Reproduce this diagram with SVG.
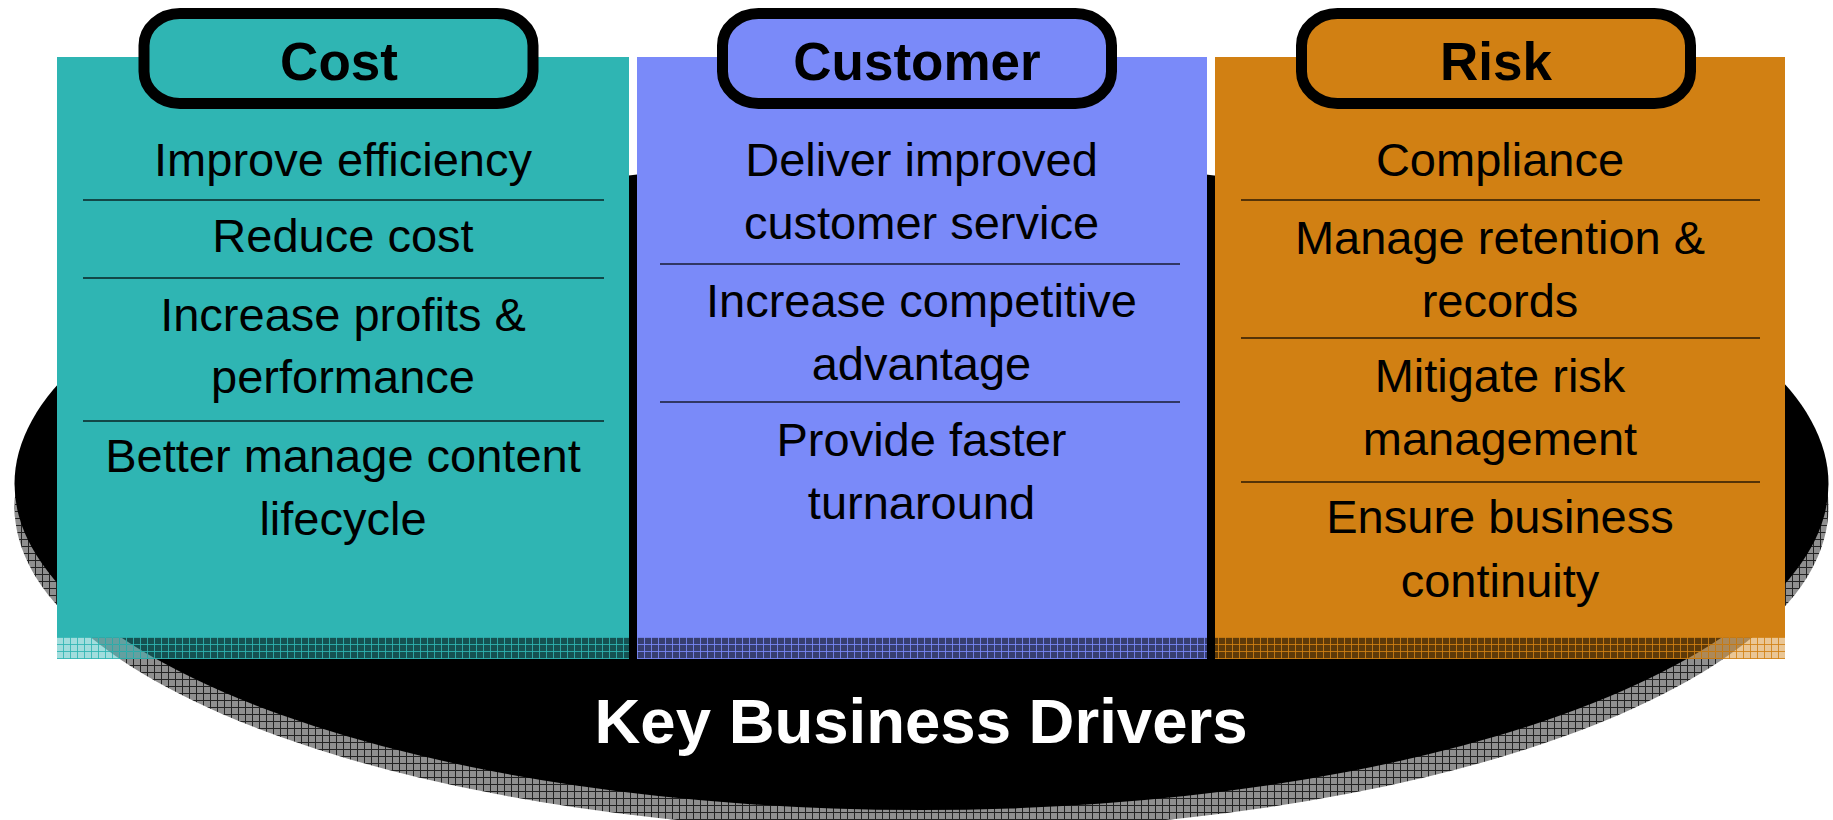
<svg xmlns="http://www.w3.org/2000/svg" width="1833" height="820" viewBox="0 0 1833 820">
<style>
.item{font-family:"Liberation Sans",Arial,sans-serif;font-size:47px;fill:#000;text-anchor:middle}
.head{font-family:"Liberation Sans",Arial,sans-serif;font-size:53px;font-weight:bold;fill:#000;text-anchor:middle}
.title{font-family:"Liberation Sans",Arial,sans-serif;font-size:63.5px;font-weight:bold;fill:#fff;text-anchor:middle}
.div{stroke:#000;stroke-width:1.5;stroke-opacity:0.8}
.pill{stroke:#000;stroke-width:11}
</style>
<defs>
<pattern id="shadowPat" width="7" height="7" patternUnits="userSpaceOnUse">
<rect width="7" height="7" fill="#8f8f8f"/>
<path d="M0 0.5H7M0.5 0V7" stroke="#222" stroke-width="1"/>
</pattern>
<pattern id="bandTeal" width="7" height="7" patternUnits="userSpaceOnUse">
<rect width="7" height="7" fill="#2fb5b3" fill-opacity="0.45"/>
<path d="M0 0.5H7M0.5 0V7" stroke="#2fb5b3" stroke-opacity="0.85" stroke-width="1"/>
</pattern>
<pattern id="bandBlue" width="7" height="7" patternUnits="userSpaceOnUse">
<rect width="7" height="7" fill="#7a8af9" fill-opacity="0.45"/>
<path d="M0 0.5H7M0.5 0V7" stroke="#7a8af9" stroke-opacity="0.85" stroke-width="1"/>
</pattern>
<pattern id="bandOrange" width="7" height="7" patternUnits="userSpaceOnUse">
<rect width="7" height="7" fill="#d18013" fill-opacity="0.45"/>
<path d="M0 0.5H7M0.5 0V7" stroke="#d18013" stroke-opacity="0.85" stroke-width="1"/>
</pattern>
</defs>
<rect width="1833" height="820" fill="#fff"/>
<g id="base">
<ellipse cx="921.5" cy="507" rx="907" ry="325" fill="url(#shadowPat)"/>
<ellipse cx="921.5" cy="484" rx="907" ry="326" fill="#000"/>
<text class="title" x="921" y="743">Key Business Drivers</text>
</g>
<g id="cost">
<rect x="57" y="57" width="572" height="580" fill="#2fb5b3"/>
<rect x="57" y="637" width="572" height="22" fill="url(#bandTeal)"/>
<rect class="pill" x="144" y="13.5" width="389" height="90" rx="36" ry="32" fill="#2fb5b3"/>
<text class="head" x="339" y="80">Cost</text>
<text class="item" x="343" y="176">Improve efficiency</text>
<line class="div" x1="83" y1="200" x2="604" y2="200"/>
<text class="item" x="343" y="252">Reduce cost</text>
<line class="div" x1="83" y1="278" x2="604" y2="278"/>
<text class="item" x="343" y="331">Increase profits &amp;</text>
<text class="item" x="343" y="393">performance</text>
<line class="div" x1="83" y1="421" x2="604" y2="421"/>
<text class="item" x="343" y="472">Better manage content</text>
<text class="item" x="343" y="535">lifecycle</text>
</g>
<g id="customer">
<rect x="637" y="57" width="570" height="580" fill="#7a8af9"/>
<rect x="637" y="637" width="570" height="22" fill="url(#bandBlue)"/>
<rect class="pill" x="722.5" y="13.5" width="389" height="90" rx="36" ry="32" fill="#7a8af9"/>
<text class="head" x="917" y="80">Customer</text>
<text class="item" x="921.5" y="176">Deliver improved</text>
<text class="item" x="921.5" y="239">customer service</text>
<line class="div" x1="660" y1="264" x2="1180" y2="264"/>
<text class="item" x="921.5" y="317">Increase competitive</text>
<text class="item" x="921.5" y="380">advantage</text>
<line class="div" x1="660" y1="402" x2="1180" y2="402"/>
<text class="item" x="921.5" y="456">Provide faster</text>
<text class="item" x="921.5" y="519">turnaround</text>
</g>
<g id="risk">
<rect x="1215" y="57" width="570" height="580" fill="#d18013"/>
<rect x="1215" y="637" width="570" height="22" fill="url(#bandOrange)"/>
<rect class="pill" x="1301.5" y="13.5" width="389" height="90" rx="36" ry="32" fill="#d18013"/>
<text class="head" x="1496" y="80">Risk</text>
<text class="item" x="1500" y="176">Compliance</text>
<line class="div" x1="1241" y1="200" x2="1760" y2="200"/>
<text class="item" x="1500" y="254">Manage retention &amp;</text>
<text class="item" x="1500" y="317">records</text>
<line class="div" x1="1241" y1="338" x2="1760" y2="338"/>
<text class="item" x="1500" y="392">Mitigate risk</text>
<text class="item" x="1500" y="455">management</text>
<line class="div" x1="1241" y1="482" x2="1760" y2="482"/>
<text class="item" x="1500" y="533">Ensure business</text>
<text class="item" x="1500" y="597">continuity</text>
</g>
</svg>
